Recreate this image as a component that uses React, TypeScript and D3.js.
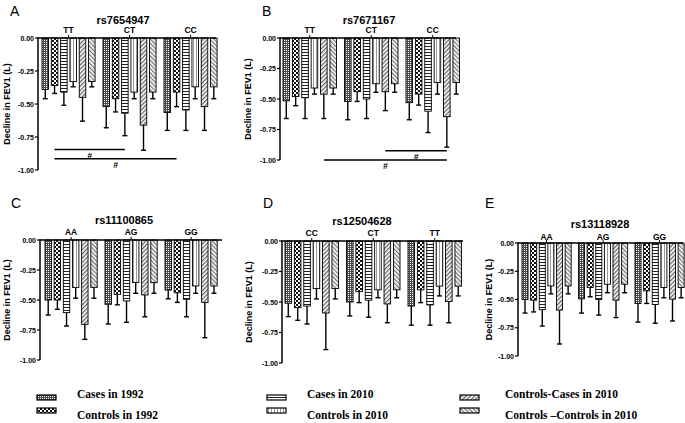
import React from "react";
import * as d3 from "d3";

// series, in bar order inside each genotype group
const seriesNames = [
  "Cases in 1992",
  "Controls in 1992",
  "Cases in 2010",
  "Controls in 2010",
  "Controls-Cases in 2010",
  "Controls \u2013Controls in 2010",
];

const yTicks = [0, -0.25, -0.5, -0.75, -1];

// panel A
const snpA = "rs7654947";
const genoA = ["TT", "CT", "CC"];
const meanA = [
  [-0.39, -0.36, -0.41, -0.33, -0.45, -0.33],
  [-0.52, -0.46, -0.57, -0.41, -0.66, -0.41],
  [-0.565, -0.41, -0.545, -0.37, -0.52, -0.37],
];
const errA = [
  [0.07, 0.06, 0.1, 0.04, 0.18, 0.04],
  [0.16, 0.1, 0.17, 0.05, 0.19, 0.05],
  [0.135, 0.11, 0.155, 0.09, 0.18, 0.09],
];
const sigA = [
  { g1: 0, b1: 1, g2: 1, b2: 2, v: -0.845 },
  { g1: 0, b1: 1, g2: 2, b2: 1, v: -0.915 },
];

// panel B
const snpB = "rs7671167";
const genoB = ["TT", "CT", "CC"];
const meanB = [
  [-0.515, -0.48, -0.49, -0.41, -0.46, -0.41],
  [-0.52, -0.44, -0.5, -0.375, -0.44, -0.375],
  [-0.53, -0.46, -0.6, -0.365, -0.645, -0.365],
];
const errB = [
  [0.145, 0.075, 0.17, 0.05, 0.2, 0.05],
  [0.15, 0.08, 0.16, 0.07, 0.155, 0.07],
  [0.14, 0.09, 0.175, 0.095, 0.25, 0.095],
];
const sigB = [
  { g1: 1, b1: 4, g2: 2, b2: 4, v: -0.925 },
  { g1: 0, b1: 4, g2: 2, b2: 4, v: -1.0 },
];

// panel C
const snpC = "rs11100865";
const genoC = ["AA", "AG", "GG"];
const meanC = [
  [-0.5, -0.5, -0.605, -0.395, -0.703, -0.395],
  [-0.536, -0.453, -0.508, -0.355, -0.458, -0.355],
  [-0.417, -0.44, -0.494, -0.383, -0.52, -0.383],
];
const errC = [
  [0.125, 0.078, 0.112, 0.09, 0.125, 0.09],
  [0.164, 0.087, 0.178, 0.089, 0.182, 0.089],
  [0.073, 0.08, 0.146, 0.061, 0.294, 0.061],
];

// panel D
const snpD = "rs12504628";
const genoD = ["CC", "CT", "TT"];
const meanD = [
  [-0.51, -0.546, -0.533, -0.39, -0.59, -0.39],
  [-0.5, -0.415, -0.485, -0.4, -0.516, -0.4],
  [-0.533, -0.4, -0.524, -0.37, -0.497, -0.37],
];
const errD = [
  [0.11, 0.104, 0.147, 0.085, 0.3, 0.085],
  [0.114, 0.09, 0.14, 0.065, 0.154, 0.065],
  [0.157, 0.105, 0.166, 0.08, 0.173, 0.08],
];

// panel E
const snpE = "rs13118928";
const genoE = ["AA", "AG", "GG"];
const meanE = [
  [-0.5, -0.506, -0.59, -0.38, -0.594, -0.38],
  [-0.494, -0.394, -0.5, -0.365, -0.506, -0.365],
  [-0.535, -0.424, -0.544, -0.394, -0.497, -0.394],
];
const errE = [
  [0.12, 0.104, 0.145, 0.07, 0.3, 0.07],
  [0.126, 0.082, 0.138, 0.075, 0.154, 0.075],
  [0.165, 0.111, 0.166, 0.091, 0.193, 0.091],
];

// layout of each panel on the page
const panels = [
  { letter: "A", snp: snpA, geno: genoA, mean: meanA, err: errA, sig: sigA,
    ax: 38, xEnd: 216, y0: 38, y1: 170, gStart: 42, gStep: 61, lx: 10, ly: 16, tx: 123, ty: 24, gy: 33, labX: 10 },
  { letter: "B", snp: snpB, geno: genoB, mean: meanB, err: errB, sig: sigB,
    ax: 280, xEnd: 456, y0: 38, y1: 160, gStart: 283, gStep: 61.5, lx: 262, ly: 16, tx: 369, ty: 24, gy: 33, labX: 251 },
  { letter: "C", snp: snpC, geno: genoC, mean: meanC, err: errC, sig: [],
    ax: 40, xEnd: 222, y0: 240, y1: 360, gStart: 45, gStep: 60, lx: 11, ly: 208, tx: 124, ty: 224, gy: 235, labX: 10 },
  { letter: "D", snp: snpD, geno: genoD, mean: meanD, err: errD, sig: [],
    ax: 282, xEnd: 463, y0: 241, y1: 363, gStart: 285, gStep: 61.5, lx: 263, ly: 208, tx: 362, ty: 225, gy: 236, labX: 252 },
  { letter: "E", snp: snpE, geno: genoE, mean: meanE, err: errE, sig: [],
    ax: 518, xEnd: 683, y0: 243, y1: 356, gStart: 522, gStep: 56.5, lx: 485, ly: 208, tx: 600, ty: 228, gy: 240, labX: 492 },
];

const legendCols = [
  { sx: 37, tx: 77 },
  { sx: 267, tx: 307 },
  { sx: 460, tx: 505 },
];

const patIds = ["p0", "p1", "p2", "p3", "p4", "p5"];

function Patterns() {
  return (
    <defs>
      <pattern id="p0" width="2" height="2" patternUnits="userSpaceOnUse">
        <rect width="2" height="2" fill="#4a4a4a" />
        <rect width="1" height="1" fill="#fff" />
      </pattern>
      <pattern id="p1" width="4" height="4" patternUnits="userSpaceOnUse">
        <rect width="4" height="4" fill="#fff" />
        <rect width="2" height="2" fill="#111" />
        <rect x="2" y="2" width="2" height="2" fill="#111" />
      </pattern>
      <pattern id="p2" width="3" height="3" patternUnits="userSpaceOnUse">
        <rect width="3" height="3" fill="#fff" />
        <rect y="1" width="3" height="1" fill="#222" />
      </pattern>
      <pattern id="p3" width="3" height="3" patternUnits="userSpaceOnUse">
        <rect width="3" height="3" fill="#fff" />
        <rect x="1" width="1" height="3" fill="#999" />
      </pattern>
      <pattern id="p4" width="3" height="3" patternUnits="userSpaceOnUse" patternTransform="rotate(45)">
        <rect width="3" height="3" fill="#fff" />
        <rect width="1.3" height="3" fill="#666" />
      </pattern>
      <pattern id="p5" width="3" height="3" patternUnits="userSpaceOnUse" patternTransform="rotate(-45)">
        <rect width="3" height="3" fill="#fff" />
        <rect width="1.3" height="3" fill="#777" />
      </pattern>
    </defs>
  );
}

function Panel({ p }) {
  const y = d3.scaleLinear().domain([0, -1]).range([p.y0, p.y1]);
  const inner = p.gStep * 0.87;
  const gx = d3
    .scaleBand()
    .domain(p.geno)
    .range([p.gStart, p.gStart + p.gStep * p.geno.length])
    .padding(0);
  const bx = d3
    .scaleBand()
    .domain(d3.range(seriesNames.length))
    .range([0, inner])
    .paddingInner(0.3);
  const bw = bx.bandwidth();
  const center = (g, b) => gx(p.geno[g]) + bx(b) + bw / 2;
  const font = "Liberation Sans, Arial, sans-serif";

  return (
    <g>
      <text x={p.lx} y={p.ly} fontFamily={font} fontSize={14}>
        {p.letter}
      </text>
      <text x={p.tx} y={p.ty} textAnchor="middle" fontFamily={font} fontSize={11} fontWeight="bold">
        {p.snp}
      </text>
      {p.geno.map((g) => (
        <text key={g} x={gx(g) + inner / 2} y={p.gy} textAnchor="middle"
          fontFamily={font} fontSize={8.5} fontWeight="bold">
          {g}
        </text>
      ))}
      {/* bars */}
      {p.mean.map((row, gi) =>
        row.map((v, bi) => {
          const x = gx(p.geno[gi]) + bx(bi);
          const cx = x + bw / 2;
          const lo = v - p.err[gi][bi];
          return (
            <g key={gi + "-" + bi}>
              <line x1={cx} x2={cx} y1={y(v)} y2={y(lo)} stroke="#000" strokeWidth={1.4} />
              <line x1={cx - 2.5} x2={cx + 2.5} y1={y(lo)} y2={y(lo)} stroke="#000" strokeWidth={1.4} />
              <rect x={x} y={y(0)} width={bw} height={y(v) - y(0)}
                fill={`url(#${patIds[bi]})`} stroke="#000" strokeWidth={0.9} />
            </g>
          );
        })
      )}
      {/* axes */}
      <line x1={p.ax} x2={p.xEnd} y1={y(0)} y2={y(0)} stroke="#000" strokeWidth={1.5} />
      {p.geno.map((g) => (
        <line key={g} x1={gx(g) + inner / 2} x2={gx(g) + inner / 2}
          y1={y(0)} y2={y(0) - 3} stroke="#000" strokeWidth={1} />
      ))}
      <line x1={p.ax} x2={p.ax} y1={y(0) - 0.75} y2={y(-1)} stroke="#000" strokeWidth={1.5} />
      {yTicks.map((t) => (
        <g key={t}>
          <line x1={p.ax - 3} x2={p.ax} y1={y(t)} y2={y(t)} stroke="#000" strokeWidth={1.2} />
          <text x={p.ax - 4} y={y(t) + 2.5} textAnchor="end" fontFamily={font}
            fontSize={7} fontWeight="bold">
            {d3.format(".2f")(t).replace("\u2212", "-")}
          </text>
        </g>
      ))}
      <text transform={`translate(${p.labX},${(p.y0 + p.y1) / 2}) rotate(-90)`} textAnchor="middle"
        fontFamily={font} fontSize={9} fontWeight="bold">
        Decline in FEV1 (L)
      </text>
      {/* significance lines */}
      {p.sig.map((s, i) => {
        const xa = center(s.g1, s.b1);
        const xb = center(s.g2, s.b2);
        return (
          <g key={i}>
            <line x1={xa} x2={xb} y1={y(s.v)} y2={y(s.v)} stroke="#000" strokeWidth={1.5} />
            <text x={(xa + xb) / 2} y={y(s.v) + 9} textAnchor="middle" fontFamily={font}
              fontSize={8.5} fontWeight="bold" fontStyle="italic">
              #
            </text>
          </g>
        );
      })}
    </g>
  );
}

export default function App() {
  return (
    <svg width={685} height={423} style={{ position: "absolute", left: 0, top: 0, background: "#fff" }}>
      <Patterns />
      <rect width={685} height={423} fill="#fff" />
      {panels.map((p) => (
        <Panel key={p.letter} p={p} />
      ))}
      {seriesNames.map((name, i) => {
        const col = legendCols[Math.floor(i / 2)];
        const row = i % 2;
        return (
          <g key={name}>
            <rect x={col.sx} y={row === 0 ? 395 : 408} width={19} height={5}
              fill={`url(#${patIds[i]})`} stroke="#000" strokeWidth={1.2} />
            <text x={col.tx} y={row === 0 ? 398 : 419} fontFamily="Liberation Serif, Times New Roman, serif"
              fontSize={11.5} fontWeight="bold">
              {name}
            </text>
          </g>
        );
      })}
    </svg>
  );
}
